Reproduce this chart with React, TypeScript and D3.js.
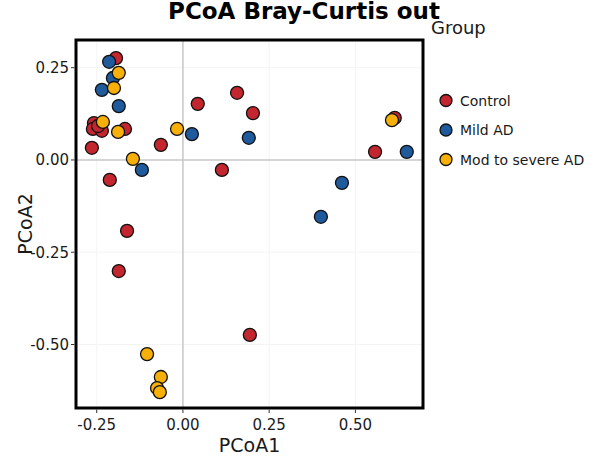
import React from "react";
import * as d3 from "d3";

const groups = ["Control", "Mild AD", "Mod to severe AD"];
const groupColors = ["#C3262E", "#1E5A9C", "#F7AF0A"];

const controlX = [-0.194, 0.043, 0.157, 0.203, -0.258, -0.261, -0.235, -0.246, -0.168, -0.064, -0.264, -0.212, 0.113, -0.162, -0.186, 0.194, 0.557, 0.614];
const controlY = [0.276, 0.152, 0.182, 0.127, 0.100, 0.084, 0.079, 0.092, 0.084, 0.041, 0.033, -0.054, -0.027, -0.192, -0.301, -0.474, 0.022, 0.114];
const mildX = [-0.214, -0.203, -0.235, -0.186, 0.026, 0.191, -0.119, 0.461, 0.400, 0.649];
const mildY = [0.266, 0.222, 0.190, 0.146, 0.070, 0.060, -0.027, -0.062, -0.154, 0.022];
const modX = [-0.186, -0.200, -0.232, -0.188, -0.017, -0.145, -0.104, -0.064, -0.075, -0.067, 0.606];
const modY = [0.236, 0.195, 0.103, 0.076, 0.084, 0.003, -0.526, -0.588, -0.618, -0.629, 0.108];

const xTicks = [-0.25, 0, 0.25, 0.5];
const yTicks = [0.25, 0, -0.25, -0.5];

const W = 605;
const H = 463;
const L = 76, R = 423, T = 40, B = 408;
const FONT = "DejaVu Sans, Verdana, sans-serif";

export default function App() {
  const x = d3.scaleLinear().domain([-0.31, 0.696]).range([L, R]);
  const y = d3.scaleLinear().domain([0.325, -0.672]).range([T, B]);
  const fmt = (v: number) => d3.format(".2f")(v).replace("\u2212", "-");
  const series = [
    { xs: controlX, ys: controlY, c: groupColors[0] },
    { xs: mildX, ys: mildY, c: groupColors[1] },
    { xs: modX, ys: modY, c: groupColors[2] },
  ];
  return (
    <svg width={W} height={H} style={{ position: "absolute", left: 0, top: 0, background: "#fff" }} fontFamily={FONT}>
      <rect x={0} y={0} width={W} height={H} fill="#fff" />
      {xTicks.map((t) => (
        <line key={"gx" + t} x1={x(t)} x2={x(t)} y1={T} y2={B} stroke="#f4f4f4" strokeWidth={1} />
      ))}
      {yTicks.map((t) => (
        <line key={"gy" + t} x1={L} x2={R} y1={y(t)} y2={y(t)} stroke="#f4f4f4" strokeWidth={1} />
      ))}
      <line x1={x(0)} x2={x(0)} y1={T} y2={B} stroke="#c8c8c8" strokeWidth={1.5} />
      <line x1={L} x2={R} y1={y(0)} y2={y(0)} stroke="#c8c8c8" strokeWidth={1.5} />
      {series.map((s, si) =>
        s.xs.map((v, i) => (
          <circle key={si + "-" + i} cx={x(v)} cy={y(s.ys[i])} r={6.5} fill={s.c} stroke="#111" strokeWidth={1.3} />
        ))
      )}
      <rect x={L} y={T} width={R - L} height={B - T} fill="none" stroke="#000" strokeWidth={3} />
      {xTicks.map((t) => (
        <g key={"tx" + t}>
          <line x1={x(t)} x2={x(t)} y1={B + 1.5} y2={B + 5} stroke="#333" strokeWidth={1} />
          <text x={x(t)} y={430} textAnchor="middle" fontSize={15} fill="#1a1a1a">{fmt(t)}</text>
        </g>
      ))}
      {yTicks.map((t) => (
        <g key={"ty" + t}>
          <line x1={L - 5} x2={L - 1.5} y1={y(t)} y2={y(t)} stroke="#333" strokeWidth={1} />
          <text x={69} y={y(t) + 5.5} textAnchor="end" fontSize={15} fill="#1a1a1a">{fmt(t)}</text>
        </g>
      ))}
      <text x={(L + R) / 2} y={452} textAnchor="middle" fontSize={19} fill="#1a1a1a">PCoA1</text>
      <text transform={`translate(32,${(T + B) / 2}) rotate(-90)`} textAnchor="middle" fontSize={19} fill="#1a1a1a">PCoA2</text>
      <text x={304} y={19} textAnchor="middle" fontSize={23} fontWeight="bold" fill="#000">PCoA Bray-Curtis out</text>
      <text x={431} y={34} fontSize={18} fill="#1a1a1a">Group</text>
      {groups.map((g, i) => (
        <g key={g}>
          <circle cx={446} cy={100.5 + i * 29.5} r={6} fill={groupColors[i]} stroke="#111" strokeWidth={1.3} />
          <text x={460} y={105.5 + i * 29.5} fontSize={14} fill="#1a1a1a">{g}</text>
        </g>
      ))}
    </svg>
  );
}
